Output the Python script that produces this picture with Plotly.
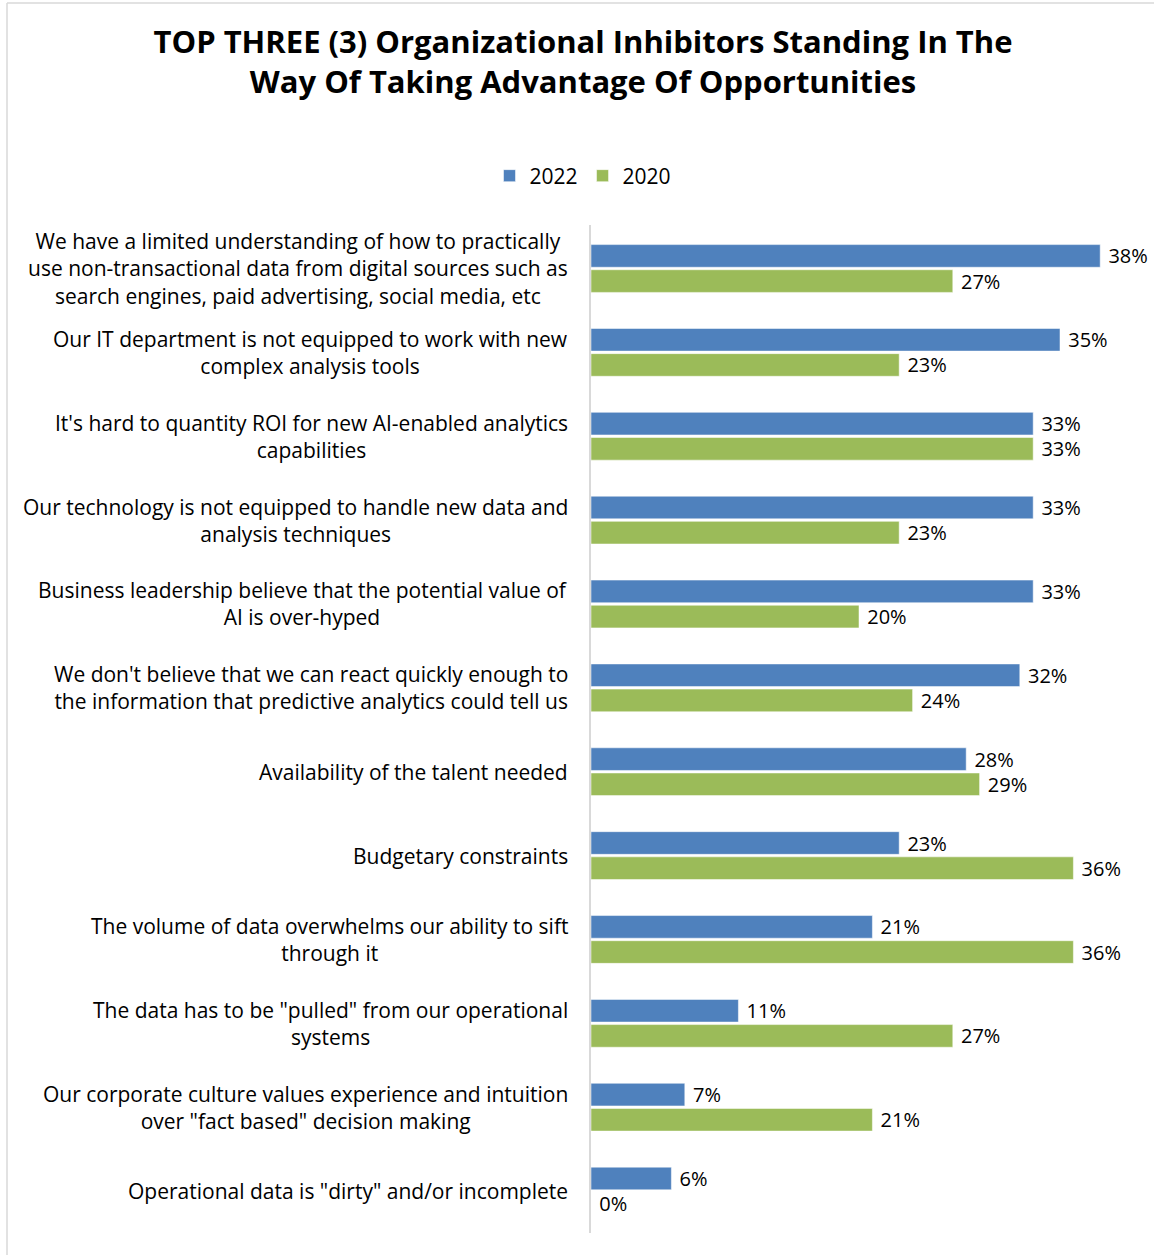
import plotly.graph_objects as go

categories = [
    "We have a limited understanding of how to practically<br>use non-transactional data from digital sources such as<br>search engines, paid advertising, social media, etc",
    "Our IT department is not equipped to work with new<br>complex analysis tools",
    "It's hard to quantity ROI for new AI-enabled analytics<br>capabilities",
    "Our technology is not equipped to handle new data and<br>analysis techniques",
    "Business leadership believe that the potential value of<br>AI is over-hyped",
    "We don't believe that we can react quickly enough to<br>the information that predictive analytics could tell us",
    "Availability of the talent needed",
    "Budgetary constraints",
    "The volume of data overwhelms our ability to sift<br>through it",
    "The data has to be \"pulled\" from our operational<br>systems",
    "Our corporate culture values experience and intuition<br>over \"fact based\" decision making",
    "Operational data is \"dirty\" and/or incomplete",
]
values_2022 = [38, 35, 33, 33, 33, 32, 28, 23, 21, 11, 7, 6]
values_2020 = [27, 23, 33, 23, 20, 24, 29, 36, 36, 27, 21, 0]
series_names = ["2022", "2020"]

FONT = "Open Sans"
W, H = 1154, 1255
ML, MR, MT, MB = 591, 14, 225, 22
PW = W - ML - MR
PH = H - MT - MB

def px_to_paper_x(px):
    return (px - ML) / PW

def px_to_paper_y(py):
    return (H - MB - py) / PH

fig = go.Figure()
for name, vals, color in [
    (series_names[0], values_2022, "#4F81BD"),
    (series_names[1], values_2020, "#9BBB59"),
]:
    fig.add_trace(go.Bar(
        y=categories,
        x=vals,
        name=name,
        orientation="h",
        marker=dict(color=color, line=dict(color="rgba(255,255,255,0.5)", width=1)),
        text=["\u00a0" + f"{v}%" for v in vals],
        textposition="outside",
        constraintext="none",
        cliponaxis=False,
        textfont=dict(family=FONT, size=20, color="#000000"),
        hoverinfo="x+y",
    ))

for c in categories:
    fig.add_annotation(
        x=0, y=c, xref="x", yref="y",
        text=c, showarrow=False,
        xanchor="right", yanchor="middle", align="center",
        xshift=-21,
        font=dict(family=FONT, size=21, color="#000000"),
    )

# chart frame (light grey border)
fig.add_shape(type="line", xref="paper", yref="paper",
              x0=px_to_paper_x(7), x1=px_to_paper_x(7),
              y0=px_to_paper_y(3), y1=px_to_paper_y(1270),
              line=dict(color="#D9D9D9", width=1.5))
fig.add_shape(type="line", xref="paper", yref="paper",
              x0=px_to_paper_x(7), x1=px_to_paper_x(1170),
              y0=px_to_paper_y(3), y1=px_to_paper_y(3),
              line=dict(color="#D9D9D9", width=1.5))

fig.update_layout(
    width=W, height=H,
    margin=dict(l=ML, r=MR, t=MT, b=MB),
    paper_bgcolor="white",
    plot_bgcolor="white",
    barmode="group",
    bargap=0.40,
    bargroupgap=0.10,
    title=dict(
        text="<b>TOP THREE (3) Organizational Inhibitors Standing In The<br>Way Of Taking Advantage Of Opportunities</b>",
        x=583 / W, xanchor="center",
        y=1 - 53 / H, yanchor="middle",
        font=dict(family=FONT, size=31, color="#000000"),
    ),
    legend=dict(
        orientation="h",
        x=583 / W, xref="container", xanchor="center",
        y=1 - 176 / H, yref="container", yanchor="middle",
        font=dict(family=FONT, size=21, color="#000000"),
        itemwidth=30,
        traceorder="normal",
    ),
    xaxis=dict(
        range=[0, PW / 13.4],
        showgrid=False, zeroline=False, showticklabels=False, ticks="",
        showline=False, fixedrange=True,
    ),
    yaxis=dict(
        autorange="reversed",
        showticklabels=False, ticks="",
        showline=True, linecolor="#D9D9D9", linewidth=2,
        showgrid=False, zeroline=False,
    ),
    showlegend=True,
)

fig.write_html(
    "out.html",
    config={"displayModeBar": False},
    post_script="document.body.style.margin='0';document.body.style.padding='0';",
)
